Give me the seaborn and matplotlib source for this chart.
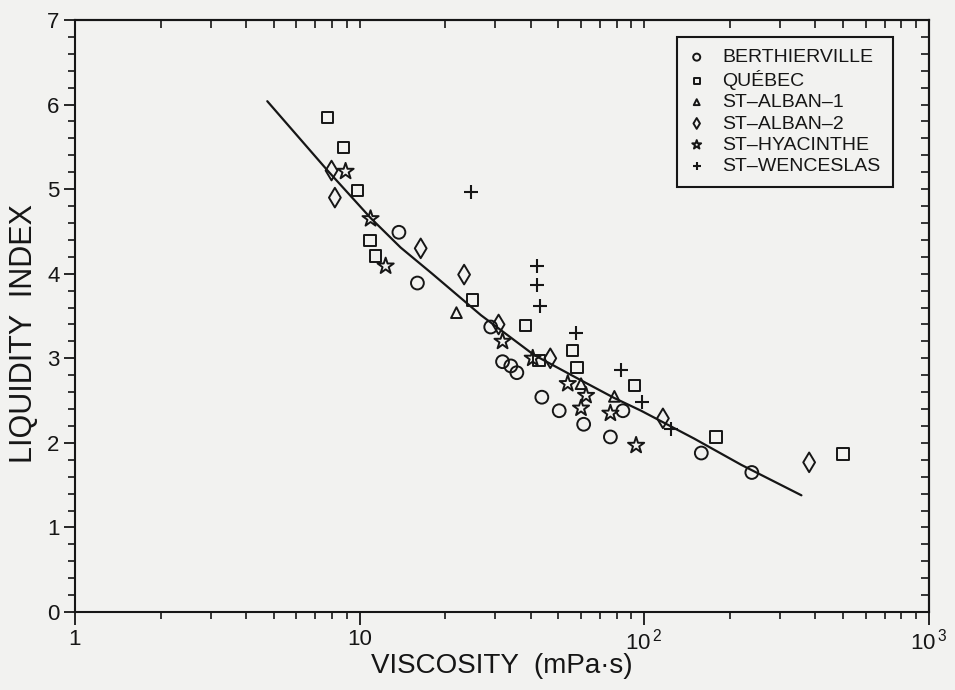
import matplotlib
matplotlib.use("Agg")
import numpy as np
import pandas as pd
import seaborn as sns
import matplotlib.pyplot as plt
from matplotlib.ticker import MultipleLocator, LogLocator, NullFormatter, FixedLocator, FixedFormatter

# ---------------- data ----------------
berthierville_v = [13.75, 15.97, 28.9, 31.8, 34.0, 35.7, 43.7, 50.3, 61.3, 76.1, 84.2, 158.8, 239]
berthierville_li = [4.49, 3.89, 3.37, 2.96, 2.91, 2.83, 2.54, 2.38, 2.22, 2.07, 2.38, 1.88, 1.65]

quebec_v = [7.70, 8.76, 9.82, 10.87, 11.38, 24.9, 38.4, 42.7, 56.1, 58.1, 92.5, 179, 500]
quebec_li = [5.85, 5.49, 4.98, 4.39, 4.21, 3.69, 3.39, 2.97, 3.09, 2.89, 2.68, 2.07, 1.87]

alban1_v = [21.9, 60.0, 78.6]
alban1_li = [3.54, 2.70, 2.55]

alban2_v = [7.97, 8.19, 16.4, 23.3, 30.8, 46.8, 116.4, 380]
alban2_li = [5.22, 4.90, 4.30, 3.99, 3.40, 3.00, 2.29, 1.77]

hyacinthe_v = [8.93, 10.93, 12.35, 31.8, 40.6, 53.9, 62.5, 60.0, 76.1, 93.7]
hyacinthe_li = [5.21, 4.65, 4.09, 3.20, 3.00, 2.70, 2.56, 2.41, 2.35, 1.97]

wenceslas_v = [24.7, 42.0, 42.0, 43.2, 57.6, 83.0, 98.4, 124.5]
wenceslas_li = [4.97, 4.09, 3.87, 3.62, 3.30, 2.86, 2.48, 2.16]

curve_v = [4.74, 7.72, 10.93, 13.94, 18.0, 26.7, 41.0, 60.0, 78.6, 97.6, 150.0, 219.5, 357]
curve_li = [6.04, 5.22, 4.66, 4.31, 4.00, 3.51, 3.04, 2.74, 2.53, 2.38, 2.05, 1.74, 1.38]

site_names = ["BERTHIERVILLE", "QUÉBEC", "ST–ALBAN–1", "ST–ALBAN–2", "ST–HYACINTHE", "ST–WENCESLAS"]
x_ticks = [1, 10, 100, 1000]
x_tick_labels = ["1", "10", "10$^{\\,2}$", "10$^{\\,3}$"]
y_ticks = [0, 1, 2, 3, 4, 5, 6, 7]

# ---------------- styling ----------------
sns.set_theme(style="ticks")
plt.rcParams["font.family"] = ["Liberation Sans", "DejaVu Sans"]
plt.rcParams["mathtext.default"] = "regular"

ink = "#161616"
paper = "#f2f2f0"

fig = plt.figure(figsize=(9.55, 6.90), dpi=100, facecolor=paper)
ax = fig.add_axes([0.0785, 0.113, 0.894, 0.858], facecolor=paper)

groups = [
    (site_names[0], berthierville_v, berthierville_li, "o", 85),
    (site_names[1], quebec_v, quebec_li, "s", 66),
    (site_names[2], alban1_v, alban1_li, "^", 60),
    (site_names[3], alban2_v, alban2_li, "d", 100),
    (site_names[4], hyacinthe_v, hyacinthe_li, "*", 150),
    (site_names[5], wenceslas_v, wenceslas_li, "+", 115),
]

for name, xv, yv, mk, sz in groups:
    df = pd.DataFrame({"viscosity": xv, "liquidity": yv})
    if mk == "+":
        sns.scatterplot(data=df, x="viscosity", y="liquidity", marker=mk, s=sz,
                        color=ink, linewidth=1.5, ax=ax, label=name, zorder=3)
    else:
        sns.scatterplot(data=df, x="viscosity", y="liquidity", marker=mk, s=sz,
                        facecolors="none", edgecolor=ink, linewidth=1.4, ax=ax,
                        label=name, zorder=3)

sns.lineplot(x=curve_v, y=curve_li, color=ink, linewidth=1.6, ax=ax,
             sort=False, estimator=None, zorder=2)

ax.set_xscale("log")
ax.set_xlim(1, 1000)
ax.set_ylim(0, 7)

ax.xaxis.set_major_locator(FixedLocator(x_ticks))
ax.xaxis.set_major_formatter(FixedFormatter(x_tick_labels))
ax.xaxis.set_minor_locator(LogLocator(base=10, subs=np.arange(2, 10)))
ax.xaxis.set_minor_formatter(NullFormatter())
ax.yaxis.set_major_locator(FixedLocator(y_ticks))
ax.yaxis.set_minor_locator(MultipleLocator(0.2))

ax.tick_params(axis="both", which="major", direction="out", length=8, width=1.3,
               color=ink, labelcolor=ink, labelsize=16, pad=3)
ax.tick_params(axis="both", which="minor", direction="out", length=5, width=1.2, color=ink)
ax.tick_params(axis="x", which="major", length=9, pad=3)

for s in ax.spines.values():
    s.set_visible(True)
    s.set_color(ink)
    s.set_linewidth(1.5)

top = ax.secondary_xaxis("top")
top.xaxis.set_major_locator(FixedLocator(x_ticks))
top.xaxis.set_minor_locator(LogLocator(base=10, subs=np.arange(2, 10)))
top.xaxis.set_major_formatter(NullFormatter())
top.xaxis.set_minor_formatter(NullFormatter())
top.tick_params(which="both", direction="in", length=6, width=1.2, color=ink)
top.spines["top"].set_linewidth(1.5)
top.spines["top"].set_color(ink)

right = ax.secondary_yaxis("right")
right.yaxis.set_major_locator(FixedLocator(y_ticks))
right.yaxis.set_minor_locator(MultipleLocator(0.2))
right.yaxis.set_major_formatter(NullFormatter())
right.tick_params(which="both", direction="in", length=6, width=1.2, color=ink)
right.spines["right"].set_linewidth(1.5)
right.spines["right"].set_color(ink)

ax.set_xlabel("VISCOSITY  (mPa·s)", fontsize=20, color=ink)
ax.set_ylabel("LIQUIDITY  INDEX", fontsize=22, color=ink)
ax.xaxis.set_label_coords(0.5, -0.070)
ax.yaxis.set_label_coords(-0.042, 0.47)

leg = ax.legend(loc="upper left", bbox_to_anchor=(0.705, 0.972), frameon=True,
                fancybox=False, edgecolor=ink, facecolor=paper, framealpha=1,
                markerscale=0.55, handlelength=0.8, handletextpad=0.92,
                labelspacing=0.19, borderpad=0.62, borderaxespad=0,
                prop={"size": 14})
leg.get_frame().set_linewidth(1.5)
for t in leg.get_texts():
    t.set_color(ink)

fig.savefig("out.png", dpi=100, facecolor=paper)
